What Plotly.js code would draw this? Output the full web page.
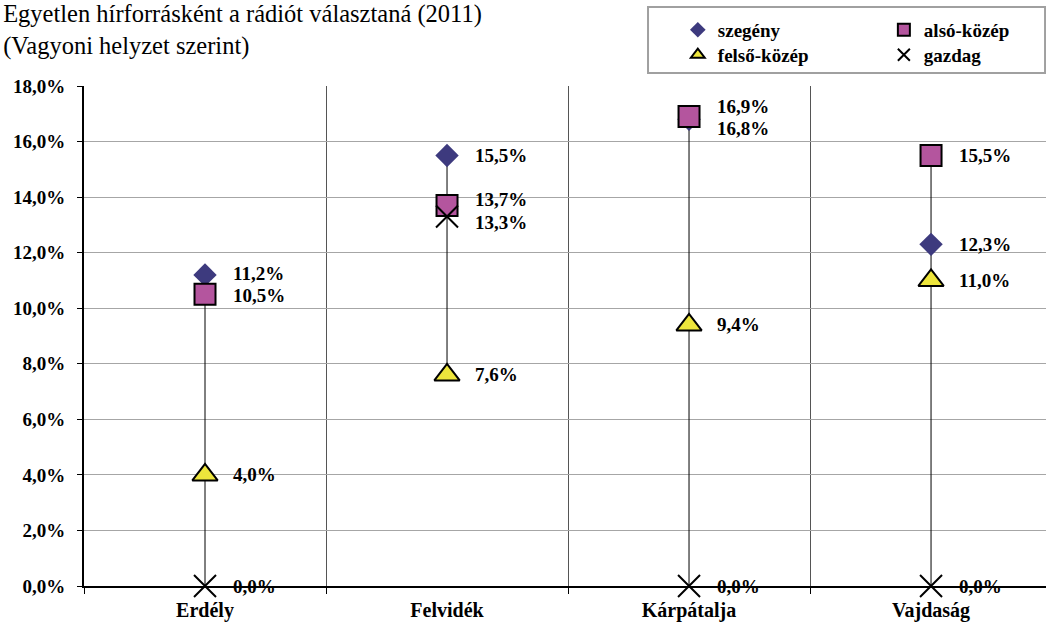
<!DOCTYPE html>
<html>
<head>
<meta charset="utf-8">
<script src="https://cdn.plot.ly/plotly-3.0.1.min.js"></script>
<style>
  html, body { margin: 0; padding: 0; background: #fff; }
  #plot { width: 1046px; height: 624px; }
</style>
</head>
<body>
<div id="plot"></div>
<script>
/* Data (percent) */
var regions = ["Erdély", "Felvidék", "Kárpátalja", "Vajdaság"];

var seriesNames = ["szegény", "alsó-közép", "felső-közép", "gazdag"];

var szegeny    = [11.2, 15.5, 16.8, 12.3];
var alsoKozep  = [10.5, 13.7, 16.9, 15.5];
var felsoKozep = [4.0, 7.6, 9.4, 11.0];
var gazdag     = [0.0, 13.3, 0.0, 0.0];

var allValues = [szegeny, alsoKozep, felsoKozep, gazdag];

var FONT = "Liberation Serif";

/* marker looks per series */
var markers = [
  { symbol: "diamond", size: 18, color: "#3d3a7e", line: { width: 0 } },
  { symbol: "square", size: 21, color: "#b4559e", line: { color: "#000", width: 2 } },
  { symbol: "triangle-up", size: 22, color: "#ede53c", line: { color: "#000", width: 2 } },
  { symbol: "x-thin", size: 22, color: "#000", line: { color: "#000", width: 2 } }
];

/* high-low line in each region */
var hlX = [], hlY = [];
regions.forEach(function (r, i) {
  var vals = allValues.map(function (s) { return s[i]; });
  hlX.push(r, r, null);
  hlY.push(Math.max.apply(null, vals), Math.min.apply(null, vals), null);
});

var data = [{
  x: hlX,
  y: hlY,
  type: "scatter",
  mode: "lines",
  line: { color: "#000", width: 1 },
  showlegend: false,
  hoverinfo: "skip",
  cliponaxis: false
}];

var legendIds = ["legend", "legend2", "legend3", "legend4"];

allValues.forEach(function (vals, k) {
  data.push({
    x: regions,
    y: vals,
    name: seriesNames[k],
    type: "scatter",
    mode: "markers",
    marker: markers[k],
    cliponaxis: false,
    legend: legendIds[k]
  });
});

/* data labels, nudged apart where they would overlap */
var plotTop = 86, plotBottom = 38, H = 624;
var pxPerUnit = (H - plotTop - plotBottom) / 18;
var minGap = 22;
var annotations = [];

regions.forEach(function (r, i) {
  var items = allValues.map(function (s, k) {
    return { v: s[i], k: k, py: -s[i] * pxPerUnit };
  });
  items.sort(function (a, b) { return b.v - a.v; });
  var adj = items.map(function (it) { return it.py; });
  for (var it = 0; it < 30; it++) {
    for (var j = 1; j < adj.length; j++) {
      var d = adj[j] - adj[j - 1];
      if (d < minGap) {
        var s = (minGap - d) / 2;
        adj[j - 1] -= s;
        adj[j] += s;
      }
    }
  }
  items.forEach(function (item, j) {
    annotations.push({
      x: r,
      y: item.v,
      xref: "x",
      yref: "y",
      text: item.v.toFixed(1).replace(".", ",") + "%",
      showarrow: false,
      xanchor: "left",
      yanchor: "middle",
      xshift: 26,
      yshift: -(adj[j] - item.py),
      font: { family: FONT, size: 19, color: "#000", weight: "bold" }
    });
  });
});

function legendAt(x, y) {
  return {
    xref: "container", yref: "container",
    x: x, y: y, xanchor: "left", yanchor: "middle",
    orientation: "h",
    bgcolor: "rgba(0,0,0,0)",
    borderwidth: 0,
    itemsizing: "constant",
    font: { family: FONT, size: 19, color: "#000", weight: "bold" }
  };
}

var layout = {
  width: 1046,
  height: 624,
  margin: { l: 84, r: 0, t: plotTop, b: plotBottom },
  paper_bgcolor: "#fff",
  plot_bgcolor: "#fff",
  separators: ", ",
  font: { family: FONT, size: 18, color: "#000" },
  title: {
    text: "Egyetlen hírforrásként a rádiót választaná (2011)<br>(Vagyoni helyzet szerint)",
    xref: "container", yref: "container",
    x: 0.003, xanchor: "left",
    y: 0.965, yanchor: "top",
    font: { family: FONT, size: 24.5, color: "#000" }
  },
  xaxis: {
    type: "category",
    range: [-0.5, 3.475],
    showline: true,
    linecolor: "#000",
    linewidth: 2,
    ticks: "outside",
    tickson: "boundaries",
    ticklen: 6,
    tickcolor: "#000",
    showgrid: true,
    gridcolor: "#555",
    gridwidth: 1,
    zeroline: false,
    ticklabelstandoff: 5,
    tickfont: { family: FONT, size: 20, color: "#000", weight: "bold" }
  },
  yaxis: {
    range: [0, 18],
    dtick: 2,
    tickformat: ".1f",
    ticksuffix: "%",
    showline: true,
    linecolor: "#000",
    linewidth: 2,
    ticks: "outside",
    ticklen: 5,
    tickcolor: "#000",
    showgrid: true,
    gridcolor: "#a6a6a6",
    gridwidth: 1,
    zeroline: false,
    ticklabelstandoff: 8,
    tickfont: { family: FONT, size: 19, color: "#000", weight: "bold" }
  },
  legend: legendAt(0.648, 0.952),
  legend2: legendAt(0.845, 0.952),
  legend3: legendAt(0.648, 0.912),
  legend4: legendAt(0.845, 0.912),
  shapes: [{
    type: "rect",
    xref: "paper", yref: "paper",
    x0: 0.5863, x1: 0.999, y0: 1.026, y1: 1.158,
    line: { color: "#a0a0a0", width: 2 },
    fillcolor: "rgba(0,0,0,0)"
  }],
  annotations: annotations
};

Plotly.newPlot("plot", data, layout, { displayModeBar: false, staticPlot: true });
</script>
</body>
</html>
